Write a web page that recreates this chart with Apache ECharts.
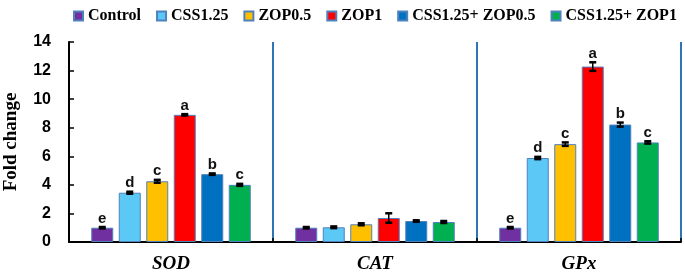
<!DOCTYPE html>
<html>
<head>
<meta charset="utf-8">
<script src="https://cdn.jsdelivr.net/npm/echarts@6/dist/echarts.min.js"></script>
<style>
  html, body { margin: 0; padding: 0; background: #fff; }
  #chart { width: 685px; height: 274px; }
</style>
</head>
<body>
<div id="chart"></div>
<script>
const categories = ['SOD', 'CAT', 'GPx']
const seriesNames = ['Control', 'CSS1.25', 'ZOP0.5', 'ZOP1', 'CSS1.25+ ZOP0.5', 'CSS1.25+ ZOP1']
const colors = ['#7030a0', '#5bc8f5', '#ffc000', '#ff0000', '#0070c0', '#00b050']

// values per treatment, in order SOD, CAT, GPx
const control = [1.0, 1.0, 1.0]
const css125 = [3.45, 1.03, 5.88]
const zop05 = [4.25, 1.24, 6.85]
const zop1 = [8.9, 1.68, 12.28]
const cssZop05 = [4.75, 1.47, 8.22]
const cssZop1 = [4.0, 1.4, 6.97]

const controlErr = [0.05, 0.05, 0.05]
const css125Err = [0.07, 0.06, 0.08]
const zop05Err = [0.1, 0.07, 0.12]
const zop1Err = [0.05, 0.33, 0.3]
const cssZop05Err = [0.05, 0.05, 0.14]
const cssZop1Err = [0.07, 0.07, 0.08]

const controlLetters = ['e', '', 'e']
const css125Letters = ['d', '', 'd']
const zop05Letters = ['c', '', 'c']
const zop1Letters = ['a', '', 'a']
const cssZop05Letters = ['b', '', 'b']
const cssZop1Letters = ['c', '', 'c']

const yTicks = { min: 0, max: 14, interval: 2 }

const values = [control, css125, zop05, zop1, cssZop05, cssZop1]
const errors = [controlErr, css125Err, zop05Err, zop1Err, cssZop05Err, cssZop1Err]
const letters = [controlLetters, css125Letters, zop05Letters, zop1Letters, cssZop05Letters, cssZop1Letters]

const barWidth = 22
const barGapPx = 5.5
const groupWidth = seriesNames.length * barWidth + (seriesNames.length - 1) * barGapPx

const chart = echarts.init(document.getElementById('chart'))

const barSeries = seriesNames.map((name, i) => ({
  name: name,
  type: 'bar',
  data: values[i],
  barWidth: barWidth,
  barGap: (barGapPx / barWidth * 100) + '%',
  itemStyle: { color: colors[i], borderColor: '#4f81bd', borderWidth: 1 }
}))

const errSeries = seriesNames.map((name, i) => ({
  type: 'custom',
  z: 5,
  data: values[i].map((v, k) => [k, v, errors[i][k]]),
  encode: { x: 0, y: 1 },
  renderItem: function (params, api) {
    const k = api.value(0)
    const v = api.value(1)
    const e = api.value(2)
    const letter = letters[i][k]
    const base = api.coord([k, v])
    const x = base[0] - groupWidth / 2 + barWidth / 2 + i * (barWidth + barGapPx)
    const top = api.coord([k, v + e])[1]
    const bot = api.coord([k, v - e])[1]
    const children = [
      { type: 'line', shape: { x1: x, y1: top, x2: x, y2: bot }, style: { stroke: '#000', lineWidth: 1.5 } },
      { type: 'line', shape: { x1: x - 3.5, y1: top, x2: x + 3.5, y2: top }, style: { stroke: '#000', lineWidth: 2.5 } },
      { type: 'line', shape: { x1: x - 3.5, y1: bot, x2: x + 3.5, y2: bot }, style: { stroke: '#000', lineWidth: 2.5 } }
    ]
    if (letter) {
      children.push({
        type: 'text',
        style: {
          text: letter, x: x, y: top - 1,
          align: 'center', verticalAlign: 'bottom',
          font: 'bold 15px "Liberation Sans", sans-serif', fill: '#111'
        }
      })
    }
    return { type: 'group', children: children }
  }
}))

chart.setOption({
  animation: false,
  color: colors,
  legend: {
    data: seriesNames,
    top: 3,
    left: 68,
    itemWidth: 9,
    itemHeight: 9,
    itemGap: 15,
    icon: 'rect',
    textStyle: { fontFamily: 'Liberation Serif', fontWeight: 'bold', fontSize: 16, color: '#000' }
  },
  grid: { left: 69, right: 4, top: 42, bottom: 32, outerBoundsMode: 'none' },
  xAxis: {
    type: 'category',
    data: categories,
    axisLine: { lineStyle: { color: '#000', width: 2 } },
    axisTick: { show: true, inside: true, length: 4, lineStyle: { color: '#000', width: 1.5 } },
    splitLine: { show: true, lineStyle: { color: '#2e75b6', width: 2 } },
    axisLabel: {
      margin: 13,
      fontFamily: 'Liberation Serif', fontStyle: 'italic', fontWeight: 'bold', fontSize: 19, color: '#000'
    }
  },
  yAxis: {
    type: 'value',
    min: yTicks.min,
    max: yTicks.max,
    interval: yTicks.interval,
    name: 'Fold change',
    nameLocation: 'middle',
    nameGap: 48,
    nameTextStyle: { fontFamily: 'Liberation Serif', fontWeight: 'bold', fontSize: 19, color: '#000' },
    axisLine: { show: true, lineStyle: { color: '#000', width: 2 } },
    axisTick: { show: true, inside: true, length: 5, lineStyle: { color: '#000', width: 1.5 } },
    splitLine: { show: false },
    axisLabel: { margin: 18, fontFamily: 'Liberation Sans', fontWeight: 'bold', fontSize: 16, color: '#000' }
  },
  series: barSeries.concat(errSeries)
})
</script>
</body>
</html>
